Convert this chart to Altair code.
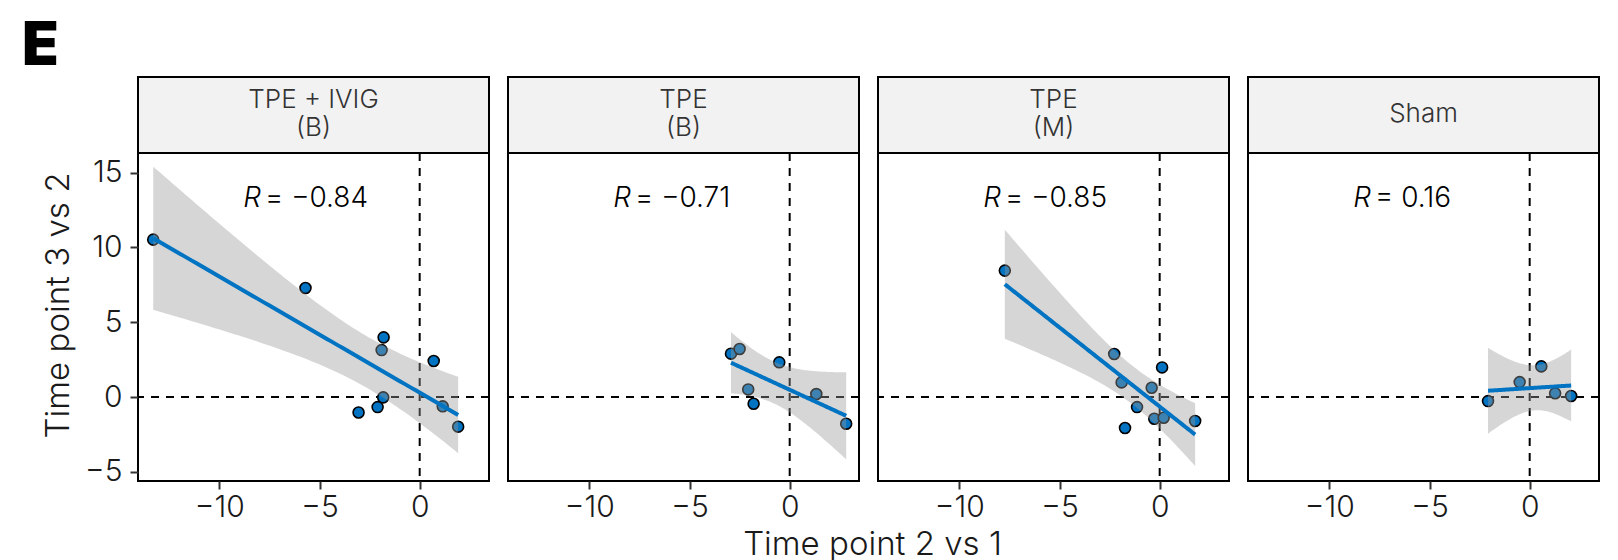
import altair as alt
import numpy as np
import pandas as pd

# ---------------- data ----------------
panel_lines = [["TPE + IVIG", "(B)"], ["TPE", "(B)"], ["TPE", "(M)"], ["Sham"]]
r_labels = ["= \u22120.84", "= \u22120.71", "= \u22120.85", "= 0.16"]

x_p1 = [-13.3, -5.7, -1.8, -1.9, 0.7, -1.82, -3.05, -2.1, 1.15, 1.92]
y_p1 = [10.52, 7.29, 3.99, 3.14, 2.41, -0.02, -1.03, -0.67, -0.62, -1.98]

x_p2 = [-2.93, -2.5, -0.52, -2.07, -1.8, 1.33, 2.82]
y_p2 = [2.90, 3.21, 2.32, 0.51, -0.45, 0.20, -1.78]

x_p3 = [-7.73, -2.27, 0.12, -1.9, -0.4, -1.13, -1.73, -0.27, 0.2, 1.77]
y_p3 = [8.45, 2.88, 1.98, 0.98, 0.62, -0.67, -2.07, -1.45, -1.38, -1.6]

x_p4 = [-2.08, -0.5, 0.58, 1.27, 2.07]
y_p4 = [-0.27, 1.0, 2.05, 0.25, 0.07]

x_ticks = [-10, -5, 0]
y_ticks = [-5, 0, 5, 10, 15]
X_DOMAIN = [-14.06, 3.46]
Y_DOMAIN = [-5.61, 16.31]

# two-sided 95% t quantiles by degrees of freedom
T975 = {3: 3.182, 4: 2.776, 5: 2.571, 6: 2.447, 7: 2.365, 8: 2.306, 9: 2.262}

# ---------------- style ----------------
W, H, STRIP = 351, 328, 76
BLUE = "#0073C2"
FONT = "Inter"
LW = 300
LH = 28


def fit(xs, ys, n_grid=80):
    x = np.array(xs, dtype=float)
    y = np.array(ys, dtype=float)
    n = len(x)
    b, a = np.polyfit(x, y, 1)
    grid = np.linspace(x.min(), x.max(), n_grid)
    yhat = a + b * grid
    resid = y - (a + b * x)
    s = np.sqrt((resid ** 2).sum() / (n - 2))
    sxx = ((x - x.mean()) ** 2).sum()
    se = s * np.sqrt(1.0 / n + (grid - x.mean()) ** 2 / sxx)
    t = T975[n - 2]
    return pd.DataFrame({"x": grid, "fit": yhat, "lo": yhat - t * se, "hi": yhat + t * se})


def panel(i, xs, ys):
    first = i == 0
    pts = pd.DataFrame({"x": xs, "y": ys})
    band = fit(xs, ys)
    one = pd.DataFrame({"a": [0]})

    xscale = alt.Scale(domain=X_DOMAIN, nice=False, zero=False)
    yscale = alt.Scale(domain=Y_DOMAIN, nice=False, zero=False)
    xaxis = alt.Axis(values=x_ticks, title=None, grid=False, domain=False,
                     tickSize=8, tickWidth=2, tickColor="#333333",
                     labelFontSize=30, labelColor="#1a1a1a", labelPadding=3,
                     labelFont=FONT, labelFontWeight=LW)
    if first:
        yaxis = alt.Axis(values=y_ticks, title="Time point 3 vs 2", grid=False, domain=False,
                         tickSize=8, tickWidth=2, tickColor="#333333",
                         labelFontSize=30, labelColor="#1a1a1a", labelPadding=8,
                         labelFont=FONT, labelFontWeight=LW,
                         titleFont=FONT, titleFontWeight=LW, titleFontSize=33,
                         titleColor="#1a1a1a", titlePadding=9, titleY=152)
    else:
        yaxis = None

    X = lambda f: alt.X(f, type="quantitative", scale=xscale, axis=xaxis)
    Y = lambda f: alt.Y(f, type="quantitative", scale=yscale, axis=yaxis)

    vline = alt.Chart(pd.DataFrame({"x": [0]})).mark_rule(
        color="black", strokeWidth=2, strokeDash=[8, 7]).encode(x=X("x"))
    hline = alt.Chart(pd.DataFrame({"y": [0]})).mark_rule(
        color="black", strokeWidth=2, strokeDash=[8, 7]).encode(y=Y("y"))
    points = alt.Chart(pts).mark_point(
        shape="circle", filled=True, fill=BLUE, stroke="black", strokeWidth=1.6,
        size=120, opacity=1).encode(x=X("x"), y=Y("y"))
    area = alt.Chart(band).mark_area(color="#999999", opacity=0.4).encode(
        x=X("x"), y=Y("lo"), y2="hi")
    line = alt.Chart(band).mark_line(color=BLUE, strokeWidth=4).encode(
        x=X("x"), y=Y("fit"))

    r_it = alt.Chart(one).mark_text(
        text="R", font=FONT, fontStyle="italic", fontWeight=LW, fontSize=28,
        color="black", align="right", baseline="alphabetic").encode(
        x=alt.value(123), y=alt.value(54))
    r_val = alt.Chart(one).mark_text(
        text=r_labels[i], font=FONT, fontWeight=LW, fontSize=28,
        color="black", align="left", baseline="alphabetic").encode(
        x=alt.value(127), y=alt.value(54))

    nlines = len(panel_lines[i])
    strip = alt.Chart(one).mark_rect(
        fill="#F2F2F2", stroke="black", strokeWidth=2).encode(
        x=alt.value(0), x2=alt.value(W), y=alt.value(-STRIP), y2=alt.value(0))
    strip_txt = alt.Chart(one).mark_text(
        text=panel_lines[i], font=FONT, fontWeight=LW, fontSize=26, lineHeight=LH,
        color="#333333", align="center", baseline="middle").encode(
        x=alt.value(W / 2), y=alt.value(-STRIP / 2 - 1 - (nlines - 1) * LH / 2))

    layers = [vline, hline, points, area, line, r_it, r_val, strip, strip_txt]
    if first:
        tag = alt.Chart(one).mark_text(
            text="E", font="Inter", fontWeight=900, fontSize=60,
            color="black", align="left", baseline="alphabetic").encode(
            x=alt.value(-116), y=alt.value(-88))
        xtitle = alt.Chart(one).mark_text(
            text="Time point 2 vs 1", font=FONT, fontWeight=LW, fontSize=33,
            color="#1a1a1a", align="center", baseline="alphabetic").encode(
            x=alt.value(734.5), y=alt.value(402))
        layers += [tag, xtitle]
    return alt.layer(*layers).properties(width=W, height=H)


panels = [panel(0, x_p1, y_p1), panel(1, x_p2, y_p2),
          panel(2, x_p3, y_p3), panel(3, x_p4, y_p4)]

chart = alt.hconcat(*panels, spacing=19, bounds="flush").properties(
    padding={"left": 21, "top": 16, "right": 0, "bottom": 0},
    background="white",
).configure_view(stroke="black", strokeWidth=2)

chart.save("out.html", embed_options={"renderer": "svg", "actions": False})
